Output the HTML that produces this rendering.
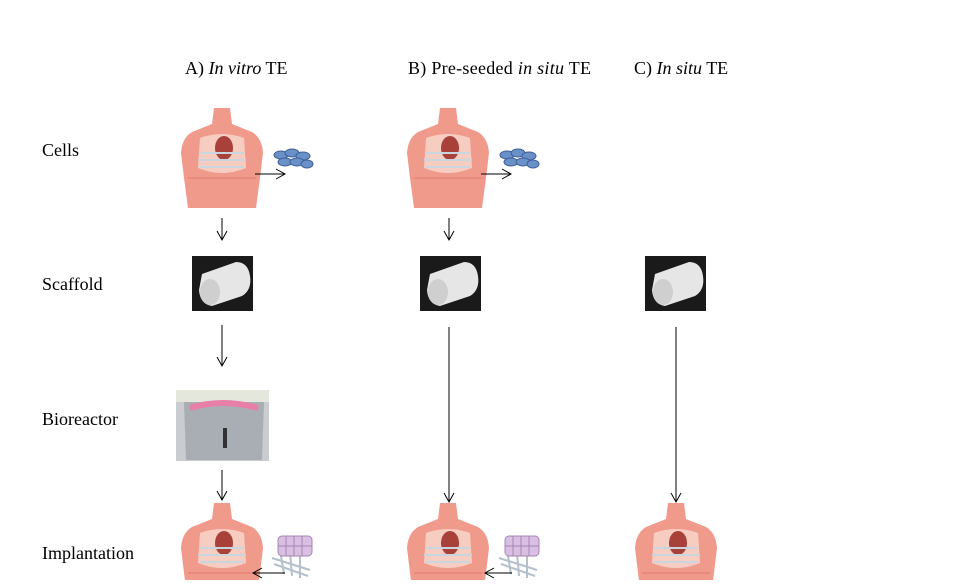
<!DOCTYPE html>
<html><head><style>
body{margin:0;background:#fff;}
svg text{font-family:"Liberation Serif",serif;font-size:18px;fill:#000;}
</style></head><body>
<svg width="960" height="580" viewBox="0 0 960 580" xmlns="http://www.w3.org/2000/svg">
<defs>
<marker id="ah" markerWidth="12" markerHeight="12" refX="10" refY="6" orient="auto" markerUnits="userSpaceOnUse">
<path d="M1,1 L10,6 L1,11" fill="none" stroke="#000" stroke-width="1"/></marker>
<g id="torso">
<path d="M34,0 L50,0 L52,16 L72,24 Q82,30 83,45 L80,70 L76,100 L8,100 L4,70 L1,45 Q2,30 12,24 L32,16 Z" fill="#f09a8c"/>
<path d="M20,30 Q42,22 64,30 L66,60 Q42,70 18,60 Z" fill="#f7cdc2"/>
<ellipse cx="44" cy="40" rx="9" ry="12" fill="#a8413a"/>
<path d="M20,45 L64,45 M18,52 L66,52 M20,59 L64,59" stroke="#c9d6e0" stroke-width="2"/>
<path d="M8,70 L76,70" stroke="#e47b6c" stroke-width="1"/>
</g>
<g id="cells">
<ellipse cx="8" cy="9" rx="7" ry="4" fill="#6a90c8" stroke="#3e5f98"/>
<ellipse cx="19" cy="7" rx="7" ry="4" fill="#6a90c8" stroke="#3e5f98"/>
<ellipse cx="30" cy="10" rx="7" ry="4" fill="#6a90c8" stroke="#3e5f98"/>
<ellipse cx="12" cy="16" rx="7" ry="4" fill="#6a90c8" stroke="#3e5f98"/>
<ellipse cx="24" cy="16" rx="7" ry="4" fill="#6a90c8" stroke="#3e5f98"/>
<ellipse cx="34" cy="18" rx="6" ry="4" fill="#6a90c8" stroke="#3e5f98"/>
</g>
<g id="scaf">
<rect width="61" height="55" fill="#1a1a1a"/>
<path d="M10,18 L44,6 Q56,6 58,20 Q60,34 50,40 L20,50 Q8,48 7,34 Z" fill="#e6e6e6"/>
<ellipse cx="18" cy="36" rx="10" ry="13" fill="#cfcfcf"/>
</g>
<g id="mesh">
<path d="M2,28 L40,40 M4,34 L38,46 M10,20 L14,44 M20,22 L22,46 M30,24 L30,48" stroke="#b4c0cc" stroke-width="2"/>
<rect x="8" y="6" width="34" height="20" rx="4" fill="#d9bfe2" stroke="#a884b8"/>
<path d="M16,6 L16,26 M24,6 L24,26 M32,6 L32,26 M8,16 L42,16" stroke="#a884b8"/>
</g>
</defs>
<text x="185" y="74">A) <tspan font-style="italic">In vitro</tspan>  TE</text>
<text x="408" y="74" textLength="183">B) Pre-seeded <tspan font-style="italic">in situ</tspan> TE</text>
<text x="634" y="74">C) <tspan font-style="italic">In situ</tspan> TE</text>
<text x="42" y="156">Cells</text>
<text x="42" y="290">Scaffold</text>
<text x="42" y="425">Bioreactor</text>
<text x="42" y="559">Implantation</text>

<use href="#torso" x="180" y="108"/>
<use href="#cells" x="273" y="146"/>
<line x1="255" y1="174" x2="285" y2="174" stroke="#000" marker-end="url(#ah)"/>
<line x1="222" y1="218" x2="222" y2="240" stroke="#000" marker-end="url(#ah)"/>
<use href="#scaf" x="192" y="256"/>
<line x1="222" y1="325" x2="222" y2="366" stroke="#000" marker-end="url(#ah)"/>
<rect x="176" y="390" width="93" height="71" fill="#c9ccd0"/>
<rect x="176" y="390" width="93" height="12" fill="#e4e8dc"/>
<path d="M184,402 L186,460 L262,460 L264,402" fill="#a9aeb4"/>
<path d="M190,408 Q222,398 258,408" stroke="#e77fa9" stroke-width="6" fill="none"/>
<line x1="225" y1="428" x2="225" y2="448" stroke="#333" stroke-width="4"/>
<line x1="222" y1="470" x2="222" y2="500" stroke="#000" marker-end="url(#ah)"/>
<use href="#torso" x="180" y="503"/>
<use href="#mesh" x="270" y="530"/>
<line x1="285" y1="573" x2="253" y2="573" stroke="#000" marker-end="url(#ah)"/>

<use href="#torso" x="406" y="108"/>
<use href="#cells" x="499" y="146"/>
<line x1="481" y1="174" x2="511" y2="174" stroke="#000" marker-end="url(#ah)"/>
<line x1="449" y1="218" x2="449" y2="240" stroke="#000" marker-end="url(#ah)"/>
<use href="#scaf" x="420" y="256"/>
<line x1="449" y1="327" x2="449" y2="502" stroke="#000" marker-end="url(#ah)"/>
<use href="#torso" x="406" y="503"/>
<use href="#mesh" x="497" y="530"/>
<line x1="512" y1="573" x2="485" y2="573" stroke="#000" marker-end="url(#ah)"/>

<use href="#scaf" x="645" y="256"/>
<line x1="676" y1="327" x2="676" y2="502" stroke="#000" marker-end="url(#ah)"/>
<use href="#torso" x="634" y="503"/>
</svg>
</body></html>
